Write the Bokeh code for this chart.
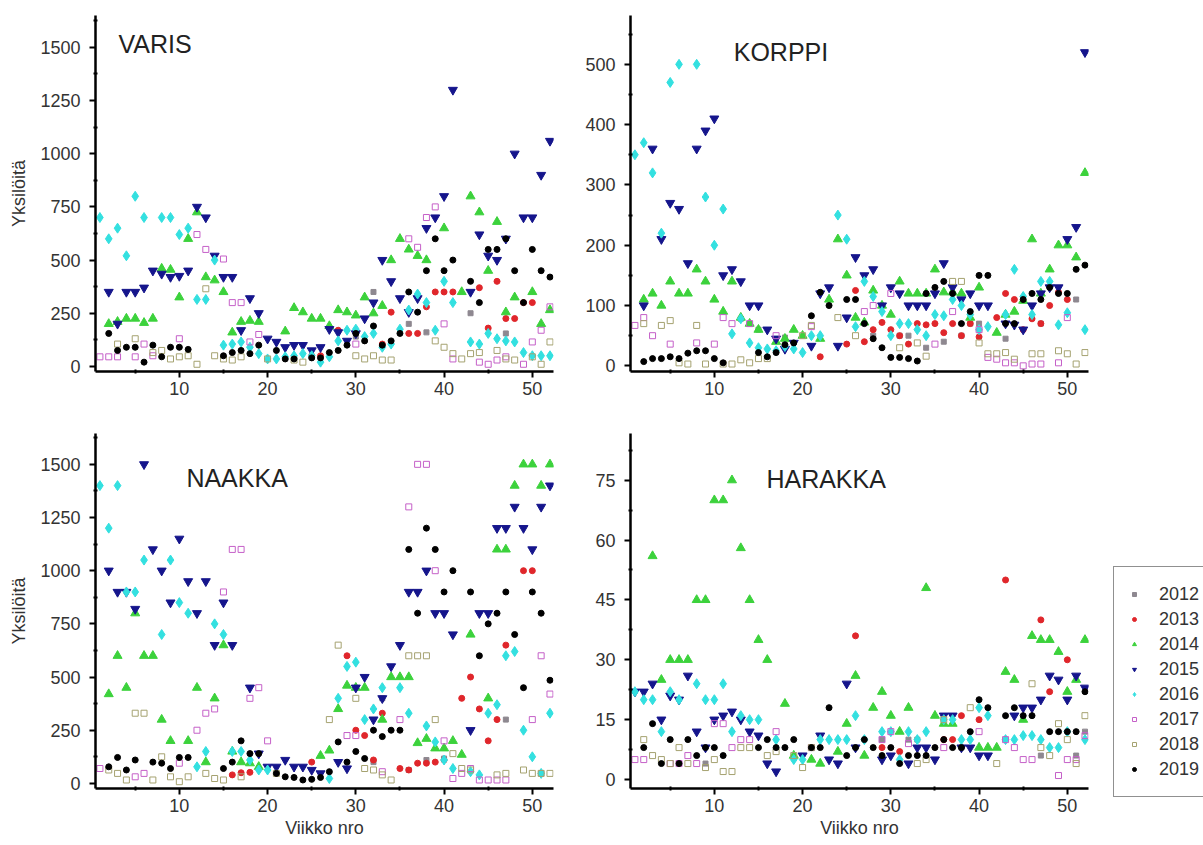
import numpy as np
from bokeh.plotting import figure
from bokeh.layouts import column, row
from bokeh.models import Range1d, FixedTicker, Label, Legend, LegendItem, ColumnDataSource
from bokeh.embed import file_html
from bokeh.resources import INLINE

WEEKS = list(range(1, 53))
YEARS = [2012, 2013, 2014, 2015, 2016, 2017, 2018, 2019]

# ---------------- VARIS (week: count) ----------------
VARIS_2012 = {30: 140, 32: 350, 36: 200, 38: 160, 43: 250, 47: 155}
VARIS_2013 = {25: 50, 26: 50, 28: 170, 33: 105, 34: 255, 36: 155, 37: 155, 38: 280, 39: 350, 40: 350,
              41: 350, 44: 370, 45: 180, 46: 400, 47: 225, 48: 225, 49: 300, 50: 300}
VARIS_2014 = {2: 200, 3: 210, 4: 225, 5: 225, 6: 205, 7: 225, 8: 460, 9: 455, 10: 325, 11: 600,
              12: 725, 13: 420, 14: 405, 15: 350, 16: 160, 17: 210, 18: 215, 19: 210, 22: 165, 23: 275,
              24: 255, 25: 225, 26: 225, 27: 190, 28: 265, 29: 255, 30: 240, 31: 325, 32: 250, 33: 285,
              34: 500, 35: 600, 36: 550, 37: 520, 38: 500, 40: 650, 42: 350, 43: 800, 44: 725, 45: 450,
              46: 680, 47: 255, 48: 325, 50: 350, 51: 200, 52: 265}
VARIS_2015 = {2: 350, 3: 200, 4: 350, 5: 350, 6: 370, 7: 450, 8: 435, 9: 420, 10: 425, 11: 450,
              12: 750, 13: 700, 14: 520, 15: 420, 16: 420, 17: 170, 18: 320, 19: 250, 20: 130, 21: 115,
              22: 90, 23: 100, 24: 100, 25: 75, 26: 90, 27: 175, 28: 160, 29: 120, 30: 155, 31: 225,
              32: 300, 33: 500, 34: 400, 35: 320, 36: 255, 37: 320, 38: 650, 39: 700, 40: 800, 41: 1300,
              43: 350, 44: 620, 45: 520, 46: 500, 47: 600, 48: 1000, 49: 700, 50: 700, 51: 900, 52: 1060}
VARIS_2016 = {1: 700, 2: 600, 3: 650, 4: 520, 5: 800, 6: 700, 8: 700, 9: 700, 10: 620, 11: 650,
              12: 315, 13: 315, 14: 500, 15: 100, 16: 105, 17: 115, 18: 90, 19: 60, 20: 35, 21: 35,
              22: 45, 23: 50, 24: 60, 25: 50, 26: 20, 27: 45, 28: 120, 29: 170, 30: 175, 31: 140,
              32: 155, 33: 90, 34: 105, 35: 175, 36: 265, 37: 340, 38: 300, 39: 170, 40: 400, 41: 300,
              43: 115, 44: 105, 45: 155, 46: 130, 47: 120, 48: 115, 49: 65, 50: 50, 51: 50, 52: 50}
VARIS_2017 = {1: 45, 2: 45, 3: 45, 5: 45, 6: 105, 7: 50, 10: 130, 12: 620, 13: 550, 15: 505,
              16: 300, 17: 300, 18: 115, 19: 150, 30: 105, 36: 600, 37: 560, 38: 700, 39: 750, 40: 200,
              41: 35, 44: 20, 45: 10, 46: 30, 47: 45, 49: 10, 50: 115, 51: 170, 52: 280}
VARIS_2018 = {3: 105, 5: 130, 7: 65, 8: 75, 9: 35, 10: 45, 11: 50, 12: 10, 13: 365, 14: 50,
              15: 35, 16: 30, 17: 45, 20: 35, 23: 30, 24: 20, 30: 50, 31: 35, 32: 50, 33: 30,
              34: 30, 39: 120, 40: 90, 41: 60, 42: 35, 43: 60, 44: 65, 46: 75, 47: 35, 48: 30,
              50: 45, 51: 10, 52: 115}
VARIS_2019 = {2: 155, 3: 75, 4: 90, 5: 90, 6: 20, 7: 100, 8: 45, 9: 90, 10: 90, 11: 80,
              15: 50, 16: 65, 17: 75, 18: 60, 19: 100, 21: 75, 22: 35, 23: 35, 25: 40, 26: 40,
              27: 65, 28: 75, 29: 100, 30: 155, 31: 120, 32: 190, 33: 100, 34: 120, 35: 155, 36: 350,
              37: 255, 38: 450, 39: 600, 40: 450, 41: 500, 43: 400, 44: 300, 45: 550, 46: 550, 47: 600,
              48: 450, 49: 300, 50: 550, 51: 450, 52: 420}

# ---------------- KORPPI ----------------
KORPPI_2012 = {13: 78, 14: 70, 15: 60, 18: 47, 28: 50, 31: 50, 32: 50, 34: 30, 36: 40, 38: 50,
               39: 70, 40: 70, 43: 45, 47: 70, 51: 110}
KORPPI_2013 = {22: 15, 25: 36, 26: 125, 27: 40, 28: 60, 29: 72, 30: 60, 31: 50, 32: 36, 33: 70,
               34: 68, 35: 70, 36: 55, 37: 70, 38: 50, 39: 70, 40: 48, 42: 80, 43: 120, 44: 110,
               45: 60, 46: 78, 47: 70, 48: 100, 49: 122, 50: 110}
KORPPI_2014 = {2: 110, 3: 120, 4: 100, 5: 140, 6: 120, 7: 120, 8: 160, 9: 140, 10: 110, 11: 90,
               12: 140, 13: 80, 14: 70, 15: 60, 17: 40, 18: 45, 19: 60, 20: 50, 22: 45, 23: 110,
               24: 210, 25: 150, 26: 80, 27: 72, 28: 125, 29: 100, 30: 85, 31: 140, 32: 120, 33: 120,
               34: 120, 35: 160, 36: 122, 37: 122, 38: 120, 39: 80, 40: 130, 42: 55, 43: 85, 44: 90,
               45: 108, 46: 210, 47: 120, 48: 160, 49: 200, 50: 200, 51: 180, 52: 320}
KORPPI_2015 = {2: 100, 3: 360, 4: 210, 5: 270, 6: 260, 7: 170, 8: 360, 9: 390, 10: 410, 11: 150,
               12: 160, 13: 140, 14: 100, 15: 100, 16: 60, 17: 45, 18: 28, 19: 38, 21: 33, 22: 120,
               23: 130, 24: 33, 25: 80, 26: 180, 27: 150, 28: 160, 29: 100, 30: 130, 31: 120, 32: 100,
               33: 100, 34: 100, 35: 120, 36: 170, 37: 130, 38: 110, 39: 120, 40: 100, 41: 100, 43: 70,
               44: 68, 45: 60, 46: 100, 47: 120, 48: 130, 49: 130, 50: 210, 51: 230, 52: 520}
KORPPI_2016 = {1: 350, 2: 370, 3: 320, 4: 220, 5: 470, 6: 500, 8: 500, 9: 280, 10: 200, 11: 260,
               12: 53, 13: 78, 14: 38, 15: 30, 16: 28, 17: 25, 18: 32, 19: 28, 20: 22, 21: 50,
               22: 50, 24: 250, 25: 210, 26: 65, 27: 140, 28: 115, 29: 90, 30: 50, 31: 70, 32: 70,
               33: 60, 34: 50, 35: 85, 36: 83, 37: 110, 38: 100, 39: 85, 40: 60, 41: 65, 43: 85,
               44: 160, 45: 115, 46: 85, 47: 140, 48: 140, 49: 68, 50: 88, 52: 60}
KORPPI_2017 = {1: 67, 2: 80, 3: 50, 5: 36, 8: 38, 10: 36, 11: 80, 12: 70, 14: 70, 17: 50,
               21: 65, 27: 90, 28: 100, 30: 120, 35: 36, 37: 90, 40: 60, 41: 14, 42: 11, 43: 5,
               44: 5, 45: 0, 46: 3, 47: 3, 49: 5, 50: 80}
KORPPI_2018 = {2: 70, 4: 67, 5: 75, 6: 5, 7: 3, 8: 67, 9: 3, 11: 3, 12: 3, 13: 10,
               14: 5, 15: 12, 16: 12, 20: 50, 21: 67, 24: 80, 26: 50, 31: 30, 33: 38, 34: 16,
               37: 140, 38: 140, 40: 38, 41: 20, 42: 20, 43: 22, 44: 11, 46: 20, 47: 20, 49: 25,
               50: 20, 51: 3, 52: 22}
KORPPI_2019 = {2: 7, 3: 12, 4: 12, 5: 15, 6: 12, 7: 21, 8: 25, 9: 25, 10: 12, 11: 5,
               15: 22, 16: 15, 17: 22, 18: 35, 19: 38, 21: 83, 22: 122, 23: 100, 25: 110, 26: 110,
               27: 70, 28: 45, 29: 30, 30: 14, 31: 14, 32: 12, 33: 8, 34: 120, 35: 130, 36: 140,
               37: 120, 38: 70, 39: 90, 40: 150, 41: 150, 43: 70, 44: 70, 45: 110, 46: 120, 47: 110,
               48: 130, 49: 120, 50: 120, 51: 160, 52: 167}

# ---------------- NAAKKA ----------------
NAAKKA_2012 = {32: 100, 33: 400, 36: 63, 38: 110, 40: 117, 47: 300, 51: 47}
NAAKKA_2013 = {16: 40, 17: 50, 18: 52, 25: 100, 29: 600, 30: 250, 31: 225, 32: 110, 33: 330, 35: 70,
               36: 63, 37: 95, 38: 95, 39: 100, 40: 110, 42: 400, 43: 500, 44: 350, 45: 200, 46: 300,
               47: 650, 49: 1000, 50: 1000}
NAAKKA_2014 = {2: 420, 3: 600, 4: 450, 5: 800, 6: 600, 7: 600, 8: 300, 9: 200, 11: 200, 12: 450,
               13: 100, 14: 400, 15: 650, 16: 150, 17: 100, 18: 95, 19: 78, 26: 130, 27: 155, 28: 350,
               29: 460, 30: 450, 31: 450, 33: 300, 34: 500, 35: 500, 36: 500, 37: 190, 38: 210, 39: 165,
               40: 165, 41: 200, 42: 135, 43: 700, 45: 400, 46: 1100, 47: 1100, 48: 1400, 49: 1500,
               50: 1500, 51: 1400, 52: 1500}
NAAKKA_2015 = {2: 1000, 3: 900, 4: 900, 5: 820, 6: 1500, 7: 1100, 8: 1000, 9: 850, 10: 1150, 11: 950,
               12: 800, 13: 950, 14: 650, 15: 850, 16: 650, 18: 450, 19: 140, 20: 78, 21: 78, 22: 110,
               23: 78, 24: 78, 25: 63, 26: 47, 28: 100, 29: 70, 30: 450, 31: 500, 32: 300, 33: 400,
               34: 550, 35: 650, 36: 900, 37: 900, 38: 1000, 39: 800, 40: 800, 41: 700, 43: 250,
               44: 800, 45: 800, 46: 1200, 47: 1200, 48: 1300, 49: 1200, 50: 1100, 51: 1300, 52: 1400}
NAAKKA_2016 = {1: 1400, 2: 1200, 3: 1400, 4: 900, 5: 900, 6: 1050, 8: 700, 9: 1050, 10: 850, 11: 800,
               12: 78, 13: 150, 14: 750, 15: 700, 16: 150, 17: 150, 18: 110, 19: 63, 20: 63, 27: 23,
               28: 400, 29: 550, 30: 570, 31: 300, 32: 350, 33: 450, 35: 450, 36: 330, 38: 270, 39: 195,
               40: 110, 41: 70, 43: 55, 44: 40, 45: 330, 46: 370, 47: 600, 48: 620, 49: 250, 50: 125,
               51: 47, 52: 330}
NAAKKA_2017 = {1: 70, 5: 31, 6: 47, 10: 95, 12: 250, 13: 330, 14: 350, 15: 900, 16: 1100, 17: 1100,
               18: 400, 19: 450, 20: 200, 29: 225, 30: 225, 33: 55, 35: 300, 36: 1300, 37: 1500,
               38: 1500, 39: 1000, 40: 200, 41: 23, 42: 47, 43: 70, 44: 16, 45: 16, 46: 16, 47: 16,
               50: 300, 51: 600, 52: 420}
NAAKKA_2018 = {2: 63, 3: 47, 4: 16, 5: 330, 6: 330, 7: 16, 8: 125, 9: 31, 10: 8, 11: 31,
               13: 47, 14: 23, 15: 16, 17: 31, 21: 47, 27: 300, 28: 650, 30: 400, 31: 70, 32: 63,
               33: 40, 34: 16, 36: 600, 37: 600, 38: 600, 39: 300, 41: 140, 42: 70, 43: 63, 46: 40,
               47: 47, 49: 63, 50: 47, 51: 47, 52: 47}
NAAKKA_2019 = {2: 78, 3: 122, 4: 63, 5: 110, 7: 100, 8: 95, 9: 70, 10: 122, 11: 122, 15: 70,
               16: 100, 17: 200, 18: 140, 19: 140, 21: 47, 22: 31, 23: 28, 24: 16, 25: 19, 26: 28,
               27: 55, 28: 195, 29: 100, 30: 150, 31: 117, 32: 250, 33: 220, 34: 250, 35: 250,
               36: 1100, 37: 800, 38: 1200, 39: 1100, 40: 900, 41: 1000, 43: 900, 44: 600, 45: 750,
               46: 800, 47: 900, 48: 700, 49: 450, 50: 900, 51: 800, 52: 485}

# ---------------- HARAKKA ----------------
HARAKKA_2012 = {9: 4, 29: 10, 32: 10, 33: 10, 38: 8, 47: 6, 51: 6, 52: 12}
HARAKKA_2013 = {26: 36, 29: 8, 31: 7, 36: 10, 37: 10, 38: 16, 40: 15, 43: 50, 47: 40, 48: 22, 50: 30}
HARAKKA_2014 = {3: 56, 4: 25, 5: 30, 6: 30, 7: 30, 8: 45, 9: 45, 10: 70, 11: 70, 12: 75,
                13: 58, 14: 45, 15: 35, 16: 30, 18: 19, 19: 6, 21: 5, 22: 4, 24: 7, 25: 14,
                26: 26, 27: 6, 28: 18, 29: 22, 30: 16, 31: 12, 32: 18, 34: 48, 35: 16, 36: 14,
                37: 14, 40: 8, 41: 8, 42: 8, 43: 27, 44: 25, 45: 15, 46: 36, 47: 35, 48: 35,
                49: 32, 50: 22, 51: 25, 52: 35}
HARAKKA_2015 = {1: 22, 2: 22, 3: 24, 4: 15, 5: 21, 6: 20, 7: 26, 8: 12, 9: 8, 10: 15,
                11: 16, 12: 17, 13: 15, 14: 12, 15: 11, 16: 4, 17: 2, 20: 6, 22: 11, 23: 5,
                24: 4, 25: 24, 26: 8, 29: 5, 30: 6, 32: 4, 33: 8, 34: 8, 35: 5, 36: 16,
                37: 16, 38: 8, 39: 8, 40: 6, 41: 6, 44: 16, 45: 18, 46: 18, 47: 20, 48: 26,
                49: 25, 50: 20, 51: 26, 52: 23}
HARAKKA_2016 = {1: 22, 2: 20, 3: 20, 4: 12, 5: 22, 6: 20, 8: 24, 9: 20, 10: 20, 11: 24,
                12: 12, 13: 16, 14: 15, 15: 15, 17: 10, 19: 5, 20: 5, 22: 10, 23: 10, 24: 10,
                25: 10, 26: 16, 27: 10, 29: 12, 30: 12, 31: 5, 32: 12, 33: 10, 34: 12, 36: 15,
                37: 15, 38: 10, 39: 10, 40: 18, 41: 16, 43: 10, 44: 10, 45: 11, 46: 11, 47: 10,
                48: 8, 49: 8, 50: 12, 52: 10}
HARAKKA_2017 = {1: 5, 2: 5, 5: 4, 6: 4, 7: 6, 8: 4, 10: 14, 11: 14, 12: 8, 13: 10,
                14: 10, 17: 12, 21: 8, 29: 10, 30: 12, 32: 9, 36: 8, 40: 12, 43: 10, 44: 8,
                45: 5, 46: 5, 49: 1, 50: 5, 51: 5, 52: 11}
HARAKKA_2018 = {2: 10, 3: 6, 4: 5, 5: 4, 6: 8, 7: 4, 9: 3, 10: 5, 11: 2, 12: 2,
                13: 8, 14: 8, 16: 6, 17: 7, 19: 6, 20: 3, 21: 8, 33: 4, 34: 5, 36: 15,
                39: 18, 42: 4, 46: 24, 47: 8, 48: 6, 49: 14, 50: 10, 51: 4, 52: 16}
HARAKKA_2019 = {2: 8, 3: 14, 4: 4, 5: 10, 6: 4, 7: 10, 8: 6, 9: 8, 10: 8, 11: 6,
                15: 8, 16: 10, 17: 8, 18: 8, 19: 10, 21: 8, 22: 8, 23: 18, 25: 6, 26: 8,
                27: 10, 28: 8, 29: 6, 30: 8, 31: 4, 32: 6, 33: 6, 34: 6, 35: 8, 36: 10,
                37: 8, 38: 8, 39: 12, 40: 20, 41: 18, 43: 16, 44: 18, 45: 16, 46: 16, 48: 12,
                49: 12, 50: 12, 51: 12, 52: 22}

VARIS = [VARIS_2012, VARIS_2013, VARIS_2014, VARIS_2015, VARIS_2016, VARIS_2017, VARIS_2018, VARIS_2019]
KORPPI = [KORPPI_2012, KORPPI_2013, KORPPI_2014, KORPPI_2015, KORPPI_2016, KORPPI_2017, KORPPI_2018, KORPPI_2019]
NAAKKA = [NAAKKA_2012, NAAKKA_2013, NAAKKA_2014, NAAKKA_2015, NAAKKA_2016, NAAKKA_2017, NAAKKA_2018, NAAKKA_2019]
HARAKKA = [HARAKKA_2012, HARAKKA_2013, HARAKKA_2014, HARAKKA_2015, HARAKKA_2016, HARAKKA_2017, HARAKKA_2018, HARAKKA_2019]

X_TICKS = [10, 20, 30, 40, 50]
X_MINOR = [5, 15, 25, 35, 45]
Y_TICKS_BIG = [0, 250, 500, 750, 1000, 1250, 1500]
Y_TICKS_KORPPI = [0, 100, 200, 300, 400, 500]
Y_TICKS_HARAKKA = [0, 15, 30, 45, 60, 75]

STYLE = {
    2012: dict(marker="square", size=5, fill_color="#8e8890", line_color="#8e8890", line_width=1),
    2013: dict(marker="circle", size=6, fill_color="#e0262b", line_color="#e0262b", line_width=1),
    2014: dict(marker="triangle", size=9, fill_color="#3cd23c", line_color="#3cd23c", line_width=1),
    2015: dict(marker="inverted_triangle", size=9, fill_color="#15158c", line_color="#15158c", line_width=1),
    2016: dict(marker="diamond", size=10, fill_color="#33e0e0", line_color="#33e0e0", line_width=1),
    2017: dict(marker="square", size=6, fill_color=None, line_color="#c560c8", line_width=1),
    2018: dict(marker="square", size=6, fill_color=None, line_color="#a5a270", line_width=1),
    2019: dict(marker="circle", size=6, fill_color="#000000", line_color="#000000", line_width=1),
}

FONT = "Liberation Sans"
X_RANGE = (0.5, 52.4)


def minor_between(ticks, top):
    step = ticks[1] - ticks[0]
    out = []
    v = ticks[0] + step / 2
    while v < top:
        out.append(v)
        v += step
    return out


def make_panel(name, series, y_range, y_ticks, width, height, borders, title_xy,
               ylabel=None, xlabel=None):
    left, right, top, bottom = borders
    p = figure(width=width, height=height, output_backend="svg", toolbar_location=None,
               x_range=Range1d(*X_RANGE), y_range=Range1d(*y_range),
               min_border_left=left, min_border_right=right,
               min_border_top=top, min_border_bottom=bottom)
    p.outline_line_color = None
    p.xgrid.grid_line_color = None
    p.ygrid.grid_line_color = None
    p.background_fill_color = "white"
    p.border_fill_color = "white"

    for year, data in zip(YEARS, series):
        vals = [data.get(w, np.nan) for w in WEEKS]
        src = ColumnDataSource(dict(x=WEEKS, y=np.array(vals, dtype=float)))
        p.scatter("x", "y", source=src, **STYLE[year])

    p.xaxis.ticker = FixedTicker(ticks=X_TICKS, minor_ticks=X_MINOR)
    p.yaxis.ticker = FixedTicker(ticks=y_ticks, minor_ticks=minor_between(y_ticks, y_range[1]))
    for ax in (p.xaxis[0], p.yaxis[0]):
        ax.axis_line_width = 2.5
        ax.axis_line_color = "black"
        ax.major_tick_line_width = 2
        ax.major_tick_line_color = "black"
        ax.major_tick_out = 6
        ax.major_tick_in = 0
        ax.minor_tick_line_width = 2
        ax.minor_tick_line_color = "black"
        ax.minor_tick_out = 2
        ax.minor_tick_in = 2
        ax.major_label_text_font = FONT
        ax.major_label_text_font_size = "18px"
        ax.major_label_text_color = "#333333"
        ax.axis_label_text_font = FONT
        ax.axis_label_text_font_size = "18px"
        ax.axis_label_text_font_style = "normal"
        ax.axis_label_text_color = "#333333"
    p.xaxis.major_label_standoff = 4
    p.yaxis.major_label_standoff = 9
    if ylabel:
        p.yaxis.axis_label = ylabel
        p.yaxis.axis_label_standoff = 8
    if xlabel:
        p.xaxis.axis_label = xlabel
        p.xaxis.axis_label_standoff = 3

    p.add_layout(Label(x=title_xy[0], y=title_xy[1], text=name, text_font=FONT,
                       text_font_size="25px", text_color="#222222",
                       text_baseline="alphabetic", text_align="left"))
    return p


W1 = 575          # left column width
W2 = 1203 - W1    # right column width (top row)
WL = 103          # legend strip width (bottom row)
W4 = W2 - WL
H1, H2 = 415, 430

p1 = make_panel("VARIS", VARIS, (-24, 1650), Y_TICKS_BIG, W1, H1,
                (95, W1 - 553, 15, H1 - 371), (3.1, 1514), ylabel="Yksilöitä")
p2 = make_panel("KORPPI", KORPPI, (-9.4, 581), Y_TICKS_KORPPI, W2, H1,
                (630 - W1, 1203 - 1088, 15, H1 - 371), (12.2, 520))
p3 = make_panel("NAAKKA", NAAKKA, (-24, 1645), Y_TICKS_BIG, W1, H2,
                (95, W1 - 553, 433 - H1, 845 - 788), (10.8, 1434),
                ylabel="Yksilöitä", xlabel="Viikko nro")
p4 = make_panel("HARAKKA", HARAKKA, (-2.25, 86.7), Y_TICKS_HARAKKA, W4, H2,
                (630 - W1, (W1 + W4) - 1088, 433 - H1, 845 - 788), (15.9, 75.4),
                xlabel="Viikko nro")

# legend strip: its own small figure without axes
p5 = figure(width=WL, height=H2, output_backend="svg", toolbar_location=None,
            x_range=Range1d(0, 1), y_range=Range1d(0, 1), x_axis_type=None, y_axis_type=None,
            min_border_left=0, min_border_right=0, min_border_top=0, min_border_bottom=0)
p5.outline_line_color = None
p5.xgrid.grid_line_color = None
p5.ygrid.grid_line_color = None
legend_items = []
for year in YEARS:
    r = p5.scatter(x=[np.nan], y=[np.nan], **STYLE[year])
    legend_items.append(LegendItem(label=str(year), renderers=[r]))

# bottom edge of the box at y = 797 px on the page (strip spans 415..845)
legend = Legend(items=legend_items,
                location=(1113 - (W1 + W4), 845 - 797), orientation="vertical", margin=0,
                padding=15, spacing=1, glyph_width=10, glyph_height=24, label_height=24,
                label_standoff=20, label_text_font=FONT, label_text_font_size="18px",
                label_text_color="#333333", border_line_color="#222222", border_line_width=1.5,
                background_fill_color="white", background_fill_alpha=1.0)
p5.add_layout(legend)

layout = column(row(p1, p2), row(p3, p4, column(p5)))

open("out.html", "w").write(file_html(layout, INLINE))
